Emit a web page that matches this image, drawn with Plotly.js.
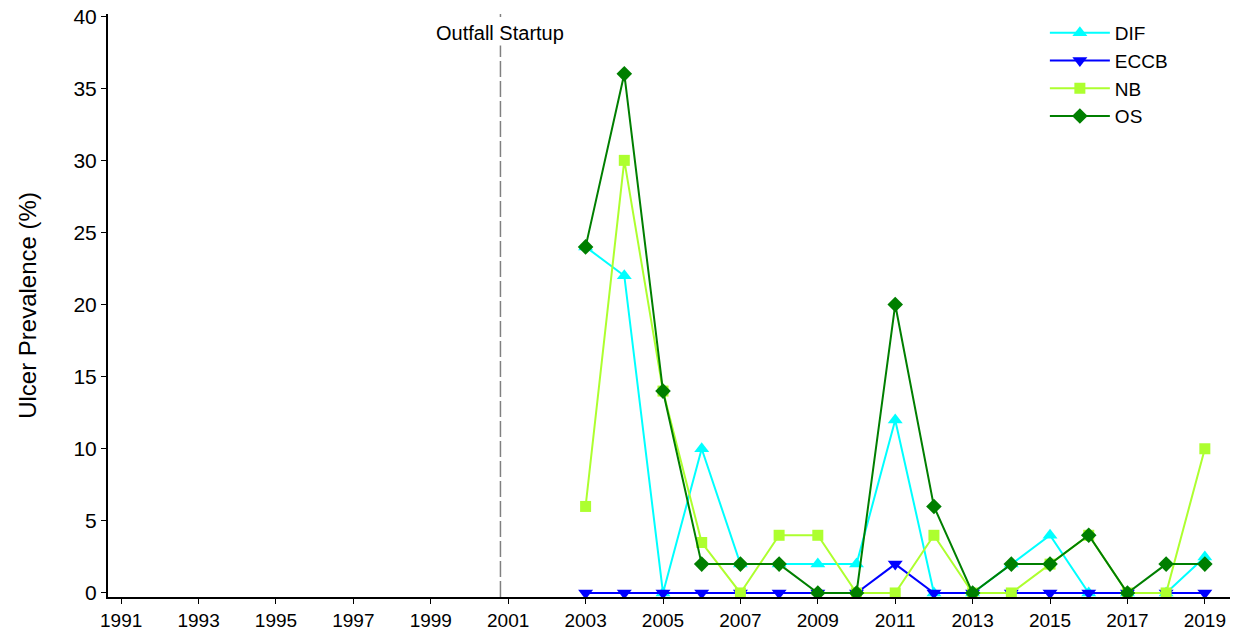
<!DOCTYPE html>
<html>
<head>
<meta charset="utf-8">
<script src="https://cdn.plot.ly/plotly-3.0.1.min.js"></script>
<style>html,body{margin:0;padding:0;background:#fff;}#chart{width:1241px;height:633px;}</style>
</head>
<body>
<div id="chart"></div>
<script>
const years = [2003,2004,2005,2006,2007,2008,2009,2010,2011,2012,2013,2014,2015,2016,2017,2018,2019];
const DIF  = [24,22,0,10,2,2,2,2,12,0,0,2,4,0,0,0,2.5];
const ECCB = [0,0,0,0,0,0,0,0,2,0,0,0,0,0,0,0,0];
const NB   = [6,30,14,3.5,0,4,4,0,0,4,0,0,2,4,0,0,10];
const OS   = [24,36,14,2,2,2,0,0,20,6,0,2,2,4,0,2,2];
const xTicks = [1991,1993,1995,1997,1999,2001,2003,2005,2007,2009,2011,2013,2015,2017,2019];
const yTicks = [0,5,10,15,20,25,30,35,40];
const outfallYear = 2000.8;
const outfallLabel = "Outfall Startup";

const font = "Liberation Sans, Arial, sans-serif";
function tr(name, y, color, symbol, size){
  return {x: years, y: y, name: name, type: 'scatter', mode: 'lines+markers',
    line: {color: color, width: 2}, marker: {color: color, symbol: symbol, size: size}};
}
const data = [
  tr('DIF', DIF, '#00FFFF', 'triangle-up', 13),
  tr('ECCB', ECCB, '#0000FF', 'triangle-down', 13),
  tr('NB', NB, '#ADFF2F', 'square', 11),
  tr('OS', OS, '#007F00', 'diamond', 12)
];
const layout = {
  width: 1241, height: 633,
  margin: {l: 108, r: 11, t: 14, b: 36},
  paper_bgcolor: '#fff', plot_bgcolor: '#fff',
  font: {family: font, size: 20, color: '#000'},
  showlegend: true,
  legend: {x: 0.835, y: 1.0, xanchor: 'left', yanchor: 'top', bgcolor: 'rgba(0,0,0,0)',
    font: {family: font, size: 19}, itemwidth: 60, tracegroupgap: 0},
  xaxis: {range: [1990.66, 2019.65], tickmode: 'array', tickvals: xTicks, ticktext: xTicks.map(String),
    showgrid: false, zeroline: false, showline: true, linecolor: '#000', linewidth: 2,
    ticks: 'outside', ticklen: 5, tickcolor: '#000', tickfont: {family: font, size: 19}},
  yaxis: {range: [-0.28, 40.15], tickmode: 'array', tickvals: yTicks,
    showgrid: false, zeroline: false, showline: true, linecolor: '#000', linewidth: 2,
    ticks: 'outside', ticklen: 5, tickcolor: '#000', tickfont: {family: font, size: 21},
    title: {text: 'Ulcer Prevalence (%)', font: {family: font, size: 24}, standoff: 30}},
  shapes: [{type: 'line', xref: 'x', yref: 'paper', x0: outfallYear, x1: outfallYear, y0: 0, y1: 1,
    line: {color: '#808080', width: 1.5, dash: '16px,4px'}}],
  annotations: [{xref: 'x', yref: 'paper', x: outfallYear, y: 0.968, text: outfallLabel, showarrow: false,
    bgcolor: '#fff', font: {family: font, size: 20, color: '#000'}, xanchor: 'center', yanchor: 'middle'}]
};
Plotly.newPlot('chart', data, layout, {displayModeBar: false, staticPlot: true});
</script>
</body>
</html>
